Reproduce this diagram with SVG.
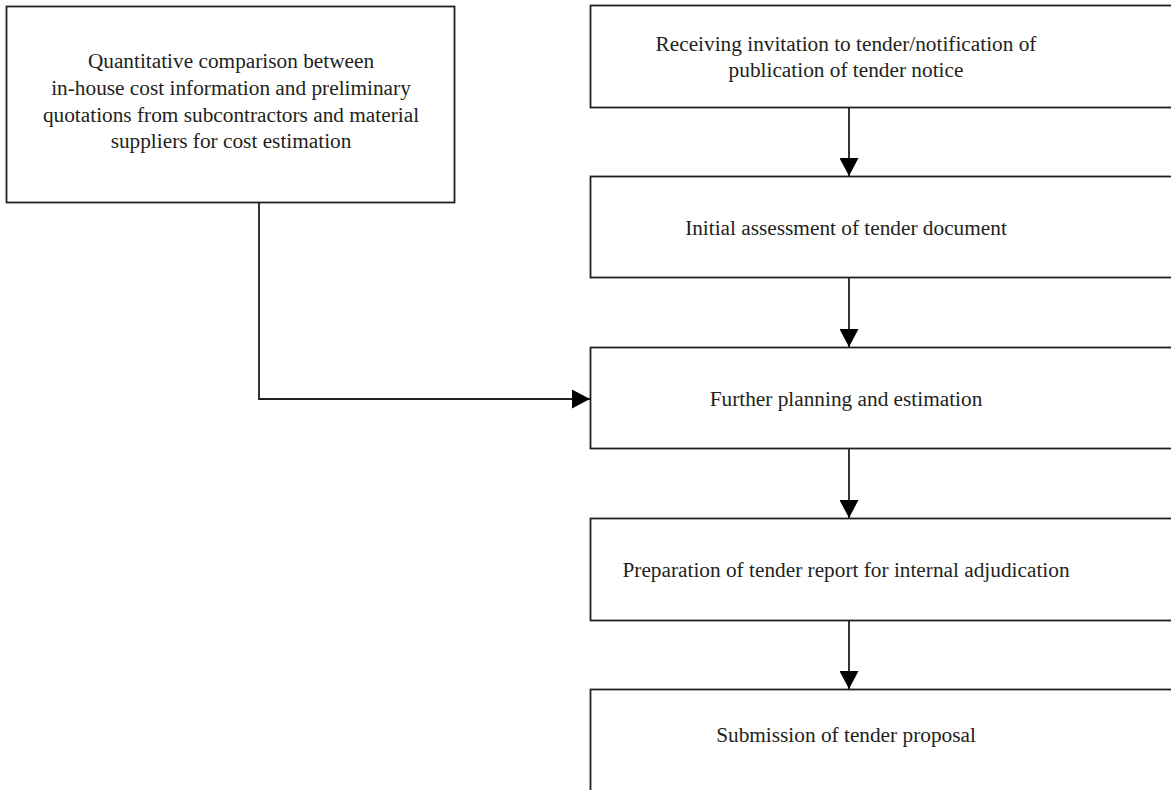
<svg xmlns="http://www.w3.org/2000/svg" width="1171" height="790" viewBox="0 0 1171 790">
  <style>
    .box { fill: #ffffff; stroke: #231f20; stroke-width: 1.8; }
    .lbl { font-family: "Liberation Serif", "Times New Roman", serif; font-size: 21.3px; fill: #231f20; text-anchor: middle; }
    .conn { fill: none; stroke: #231f20; stroke-width: 1.8; }
  </style>
  <defs>
    <marker id="arrow" markerUnits="userSpaceOnUse" markerWidth="19" markerHeight="19" refX="18" refY="9.5" orient="auto">
      <path d="M0,0 L18,9.5 L0,19 Z" fill="#000000"/>
    </marker>
  </defs>
  <rect width="1171" height="790" fill="#ffffff"/>

  <g id="node-quantitative">
    <rect class="box" x="6.5" y="6.5" width="448" height="196"/>
    <text class="lbl" x="231" y="68">Quantitative comparison between</text>
    <text class="lbl" x="231" y="95">in-house cost information and preliminary</text>
    <text class="lbl" x="231" y="122">quotations from subcontractors and material</text>
    <text class="lbl" x="231" y="148">suppliers for cost estimation</text>
  </g>

  <g id="node-receiving">
    <rect class="box" x="590.5" y="5.5" width="600" height="102"/>
    <text class="lbl" x="846" y="51">Receiving invitation to tender/notification of</text>
    <text class="lbl" x="846" y="77">publication of tender notice</text>
  </g>

  <g id="node-initial">
    <rect class="box" x="590.5" y="176.5" width="600" height="101"/>
    <text class="lbl" x="846" y="235">Initial assessment of tender document</text>
  </g>

  <g id="node-further">
    <rect class="box" x="590.5" y="347.5" width="600" height="101"/>
    <text class="lbl" x="846" y="406">Further planning and estimation</text>
  </g>

  <g id="node-preparation">
    <rect class="box" x="590.5" y="518.5" width="600" height="102"/>
    <text class="lbl" x="846" y="577">Preparation of tender report for internal adjudication</text>
  </g>

  <g id="node-submission">
    <rect class="box" x="590.5" y="689.5" width="600" height="120"/>
    <text class="lbl" x="846" y="742">Submission of tender proposal</text>
  </g>

  <g id="connectors">
    <path class="conn" d="M849,107 L849,176" marker-end="url(#arrow)"/>
    <path class="conn" d="M849,278 L849,347" marker-end="url(#arrow)"/>
    <path class="conn" d="M849,449 L849,518" marker-end="url(#arrow)"/>
    <path class="conn" d="M849,621 L849,689" marker-end="url(#arrow)"/>
    <path class="conn" d="M259,202 L259,399 L590,399" marker-end="url(#arrow)"/>
  </g>
</svg>
